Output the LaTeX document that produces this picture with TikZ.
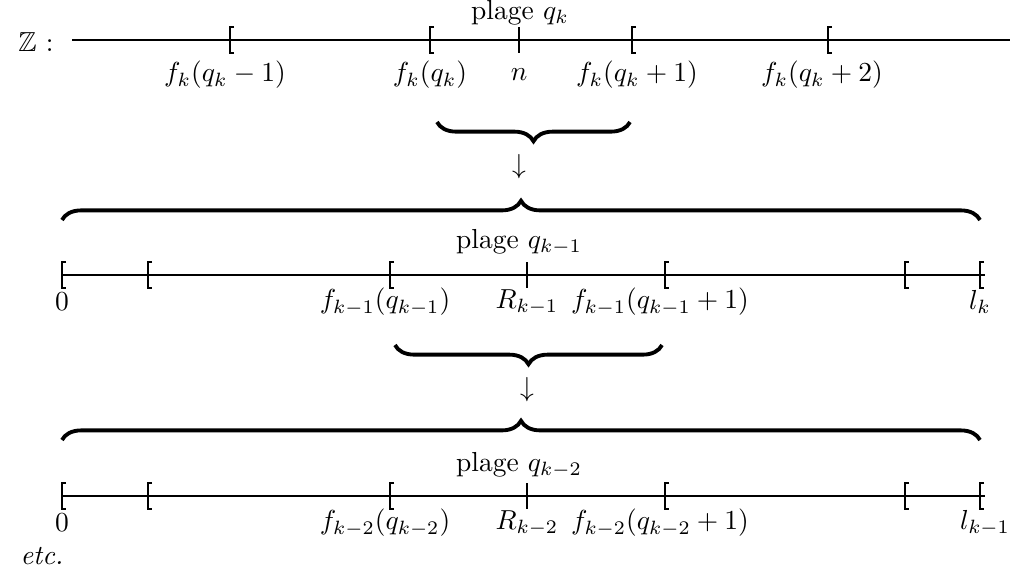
\documentclass[tikz,border=0pt]{standalone}
\usepackage{amssymb}
\usetikzlibrary{decorations.pathreplacing}
\tikzset{
  axis/.style={line width=0.5pt},
  brk/.style={line width=0.6pt},
  lbl/.style={inner sep=0pt, anchor=center},
  bracebig/.style={line width=1.4pt, decorate, decoration={brace, amplitude=7pt}},
}
\newcommand{\Brk}[2]{\draw[brk] (#1+4,#2-13) -- (#1,#2-13) -- (#1,#2+13) -- (#1+4,#2+13);}
\begin{document}
\begin{tikzpicture}[x=0.3636pt,y=-0.3636pt]
\useasboundingbox (0,0) rectangle (1022,582);
% Row 1
\node[lbl] (Z) at (36,42) {$\mathbb{Z}$ :};
\coordinate (a1) at (72,40);
\coordinate (b1) at (1010,40);
\draw[axis] (a1) -- (b1);
\Brk{230}{40}\Brk{430}{40}\Brk{632}{40}\Brk{828}{40}
\draw[brk] (519,27) -- (519,53);
\node[lbl] (p1) at (520,13) {plage $q_k$};
\node[lbl] (l11) at (225,75) {$f_k(q_k-1)$};
\node[lbl] (l12) at (430,75) {$f_k(q_k)$};
\node[lbl] (l13) at (519,75) {$n$};
\node[lbl] (l14) at (637,75) {$f_k(q_k+1)$};
\node[lbl] (l15) at (822,75) {$f_k(q_k+2)$};
% brace 1
\coordinate (u1a) at (630,122);
\coordinate (u1b) at (437,122);
\draw[bracebig] (u1a) -- (u1b);
\node[lbl] (ar1) at (519,167) {$\downarrow$};
\coordinate (o1a) at (62,220);
\coordinate (o1b) at (980,220);
\draw[bracebig] (o1a) -- (o1b);
% Row 2
\node[lbl] (p2) at (519,242) {plage $q_{k-1}$};
\coordinate (a2) at (62,275);
\coordinate (b2) at (985,275);
\draw[axis] (a2) -- (b2);
\Brk{62}{275}\Brk{148}{275}\Brk{390}{275}\Brk{665}{275}\Brk{905}{275}\Brk{980}{275}
\draw[brk] (527,262) -- (527,288);
\node[lbl] (l21) at (62,302) {$0$};
\node[lbl] (l22) at (385,302) {$f_{k-1}(q_{k-1})$};
\node[lbl] (l23) at (527,302) {$R_{k-1}$};
\node[lbl] (l24) at (660,302) {$f_{k-1}(q_{k-1}+1)$};
\node[lbl] (l25) at (980,302) {$l_k$};
% brace 3
\coordinate (u2a) at (662,345);
\coordinate (u2b) at (395,345);
\draw[bracebig] (u2a) -- (u2b);
\node[lbl] (ar2) at (527,390) {$\downarrow$};
\coordinate (o2a) at (62,440);
\coordinate (o2b) at (980,440);
\draw[bracebig] (o2a) -- (o2b);
% Row 3
\node[lbl] (p3) at (519,465) {plage $q_{k-2}$};
\coordinate (a3) at (62,496);
\coordinate (b3) at (985,496);
\draw[axis] (a3) -- (b3);
\Brk{62}{496}\Brk{148}{496}\Brk{390}{496}\Brk{665}{496}\Brk{905}{496}\Brk{980}{496}
\draw[brk] (527,483) -- (527,509);
\node[lbl] (l31) at (62,523) {$0$};
\node[lbl] (l32) at (385,523) {$f_{k-2}(q_{k-2})$};
\node[lbl] (l33) at (527,523) {$R_{k-2}$};
\node[lbl] (l34) at (660,523) {$f_{k-2}(q_{k-2}+1)$};
\node[lbl] (l35) at (985,523) {$l_{k-1}$};
\node[lbl] (etc) at (42,556) {\textit{etc.}};
\end{tikzpicture}
\end{document}
